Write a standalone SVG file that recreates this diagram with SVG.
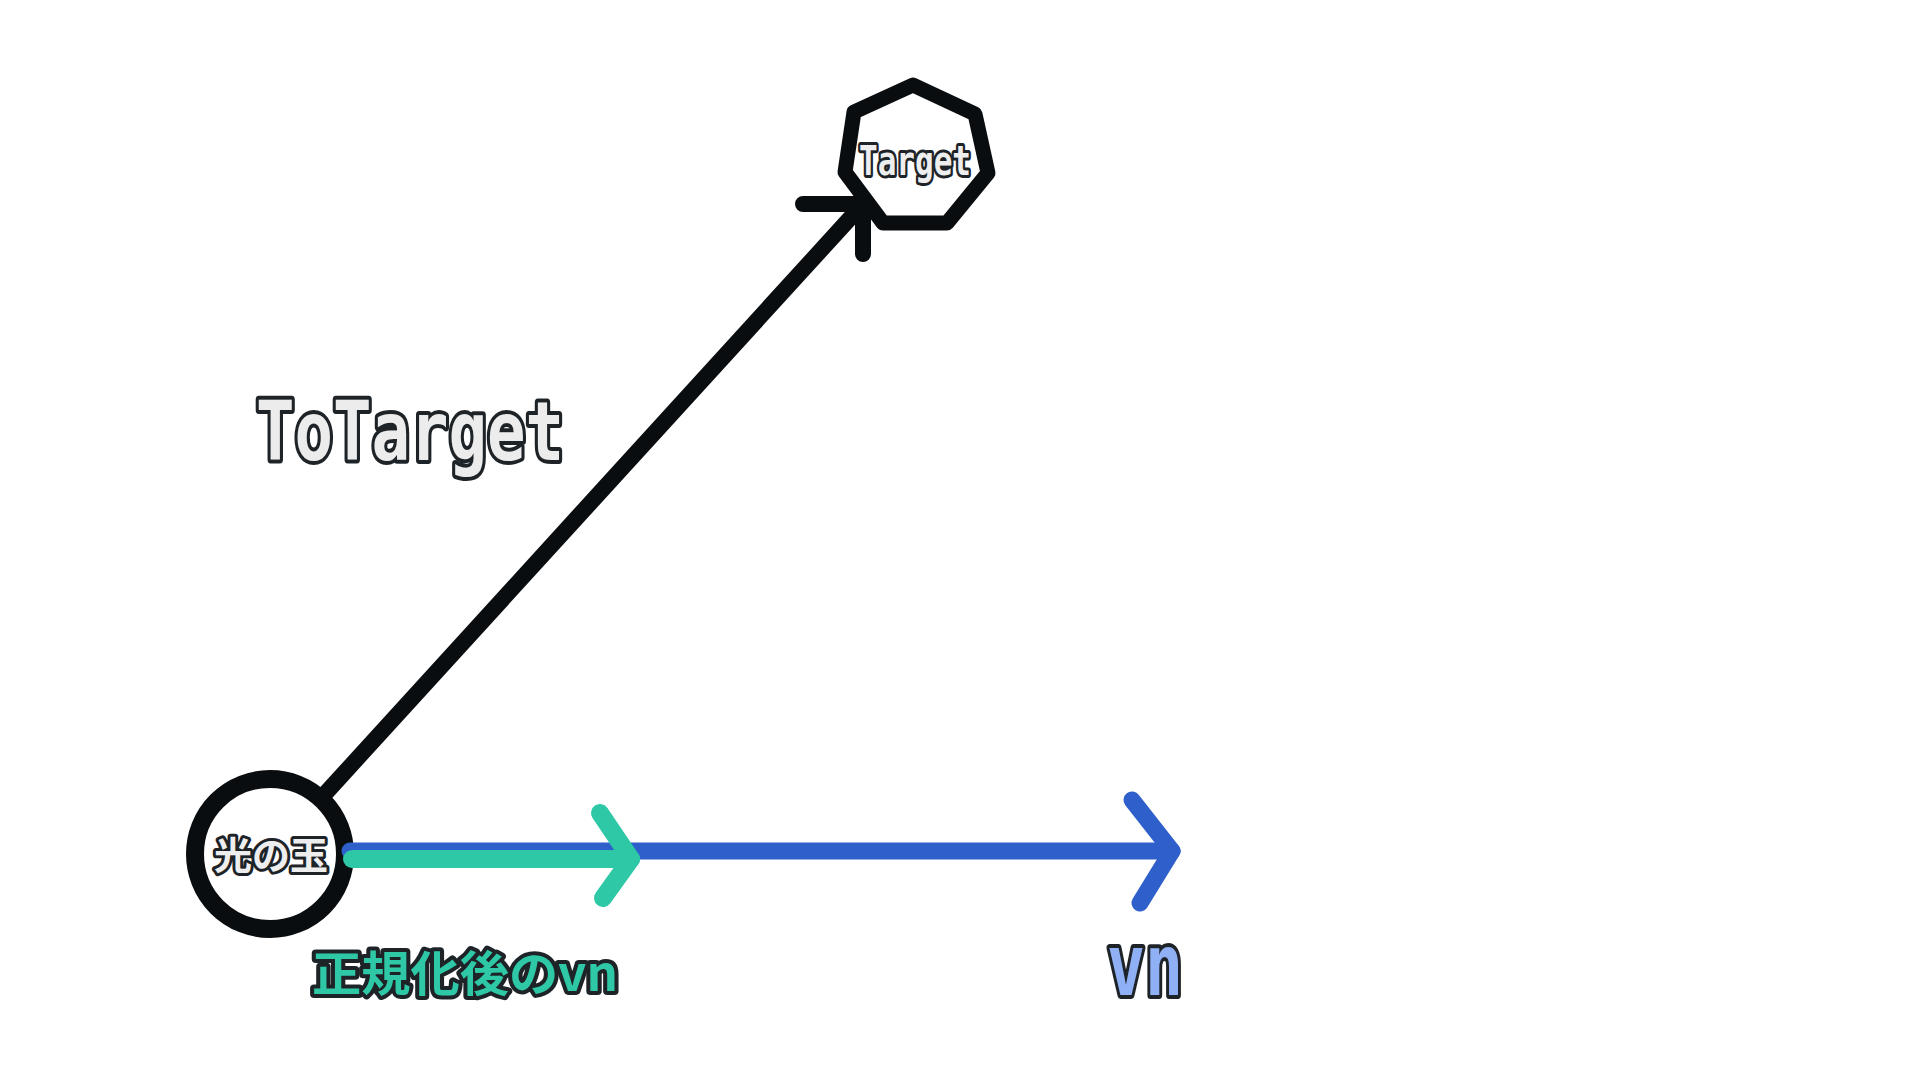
<svg xmlns="http://www.w3.org/2000/svg" width="1920" height="1080" viewBox="0 0 1920 1080">
<style>
.bg{fill:#ffffff}
.edge{fill:none;stroke-linecap:round;stroke-linejoin:round}
.blk{stroke:#0a0d10;stroke-width:16}
.blue{stroke:#2f5fcb;stroke-width:17}
.teal{stroke:#2ec8a6;stroke-width:18}
.shape{fill:#ffffff;stroke:#0a0d10;stroke-linejoin:round}
.lbl{font-weight:bold;paint-order:stroke;stroke:#1e2328;stroke-linejoin:round}
.mono{font-family:"DejaVu Sans Mono","Liberation Mono",monospace}
.cjk{font-family:"Noto Sans CJK JP","Noto Sans",sans-serif}
</style>
<rect class="bg" x="0" y="0" width="1920" height="1080"/>
<g id="connectors">
  <g id="to-target">
    <line class="edge blk" x1="324" y1="795" x2="863" y2="204"/>
    <polyline class="edge blk" points="803,204 863,204 863,254"/>
  </g>
</g>
<g id="node-ball">
  <circle class="shape" cx="270" cy="854" r="75" stroke-width="18"/>
  <text class="lbl cjk" x="271" y="869" font-size="38" text-anchor="middle" fill="#eeeeee" stroke-width="6">光の玉</text>
</g>
<g id="node-target">
  <polygon class="shape" points="913,85 975,114 988,173 947,223 883,223 845,172 854,112" stroke-width="15"/>
  <text class="lbl mono" x="915" y="175" font-size="40" text-anchor="middle" textLength="112" lengthAdjust="spacingAndGlyphs" fill="#eeeeee" stroke-width="6">Target</text>
</g>
<g id="connectors-vn">
  <g id="vn">
    <line class="edge blue" x1="350" y1="851" x2="1172" y2="851"/>
    <polyline class="edge blue" points="1132,800 1172,851 1140,903"/>
  </g>
  <g id="vn-normalized">
    <line class="edge teal" x1="352" y1="859" x2="631" y2="859"/>
    <polyline class="edge teal" points="600,813 631,859 603,898"/>
  </g>
</g>
<g id="labels">
  <text id="label-totarget" class="lbl mono" x="256" y="460" font-size="82" textLength="308" lengthAdjust="spacingAndGlyphs" fill="#ececec" stroke-width="8">ToTarget</text>
  <text id="label-normalized" class="lbl cjk" x="312" y="991" font-size="48" textLength="306" lengthAdjust="spacingAndGlyphs" fill="#2ec8a6" stroke-width="8">正規化後のvn</text>
  <text id="label-vn" class="lbl mono" x="1107" y="995" font-size="86" textLength="76" lengthAdjust="spacingAndGlyphs" fill="#8fb0f5" stroke-width="8">vn</text>
</g>
</svg>
